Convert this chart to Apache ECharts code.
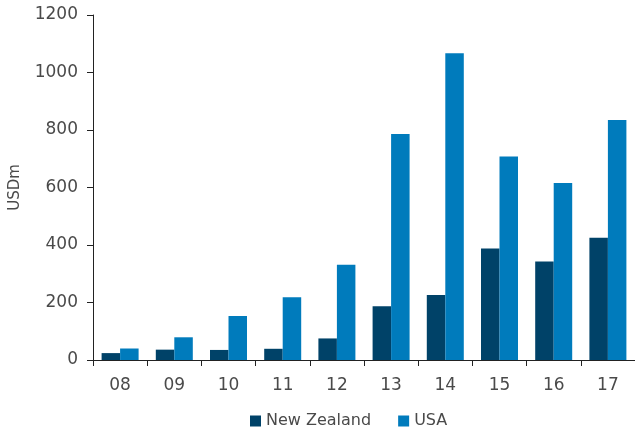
<!DOCTYPE html>
<html>
<head>
<meta charset="utf-8">
<script src="https://cdn.jsdelivr.net/npm/echarts@6/dist/echarts.min.js"></script>
<style>
  html, body { margin: 0; padding: 0; background: #fff; }
  #chart { width: 635px; height: 430px; }
</style>
</head>
<body>
<div id="chart"></div>
<script>
// Annual investment, USD millions
const years = ['08', '09', '10', '11', '12', '13', '14', '15', '16', '17'];
const newZealand = [24, 36, 35, 39, 75, 187, 226, 388, 343, 425];
const usa = [40, 79, 153, 218, 331, 786, 1067, 708, 616, 835];
const yTicks = { min: 0, max: 1200, interval: 200 };

const textColor = '#4a4a4a';
const fontFamily = '"DejaVu Sans", sans-serif';

const chart = echarts.init(document.getElementById('chart'));
chart.setOption({
  animation: false,
  textStyle: { fontFamily: fontFamily },
  grid: { left: 93, right: 0, top: 15, bottom: 70 },
  legend: {
    top: 408,
    left: 245,
    itemWidth: 11,
    itemHeight: 11,
    itemGap: 27,
    icon: 'rect',
    textStyle: { fontSize: 16, color: textColor, fontFamily: fontFamily },
    data: ['New Zealand', 'USA']
  },
  xAxis: {
    type: 'category',
    data: years,
    axisLine: { lineStyle: { color: '#222', width: 1 } },
    axisTick: { show: true, length: 6, lineStyle: { color: '#222' } },
    axisLabel: { color: textColor, fontSize: 17, margin: 17 }
  },
  yAxis: {
    type: 'value',
    min: yTicks.min,
    max: yTicks.max,
    interval: yTicks.interval,
    name: 'USDm',
    nameLocation: 'middle',
    nameGap: 70,
    nameTextStyle: { color: textColor, fontSize: 15 },
    axisLine: { show: true, lineStyle: { color: '#222', width: 1 } },
    axisTick: { show: true, length: 6, lineStyle: { color: '#222' } },
    axisLabel: { color: textColor, fontSize: 17, margin: 15, formatter: v => String(v) },
    splitLine: { show: false }
  },
  series: [
    {
      name: 'New Zealand',
      type: 'bar',
      data: newZealand,
      barWidth: 18.5,
      barGap: '0%',
      itemStyle: { color: '#004268' }
    },
    {
      name: 'USA',
      type: 'bar',
      data: usa,
      barWidth: 18.5,
      barGap: '0%',
      itemStyle: { color: '#007BBC' }
    }
  ]
});
</script>
</body>
</html>
